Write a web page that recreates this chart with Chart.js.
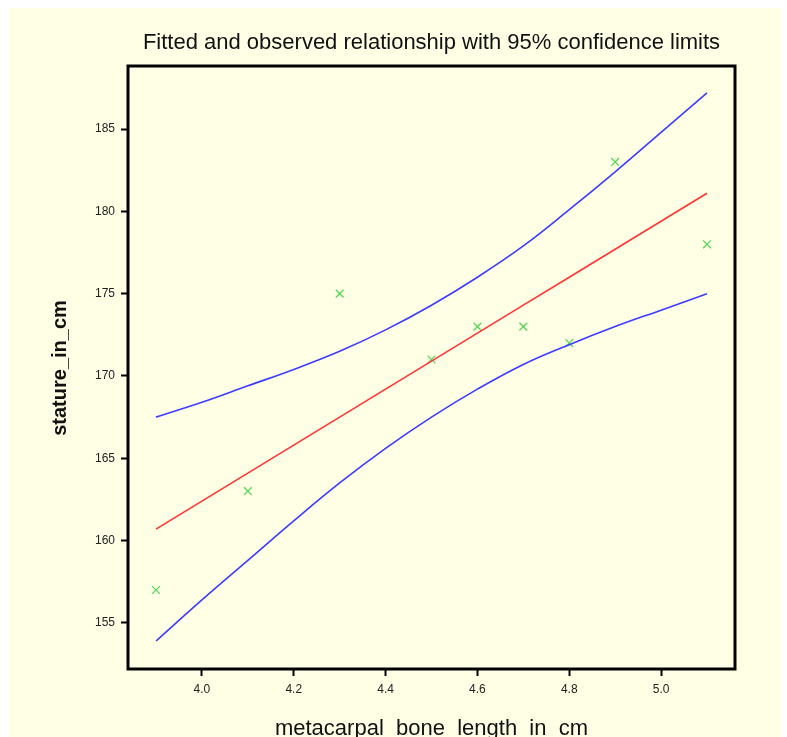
<!DOCTYPE html>
<html>
<head>
<meta charset="utf-8">
<title>Fitted and observed relationship</title>
<script src="https://cdn.jsdelivr.net/npm/chart.js@4.4.1/dist/chart.umd.min.js"></script>
<style>
    html, body { margin: 0; padding: 0; background: #ffffff; }
    canvas { display: block; }
</style>
</head>
<body>
<canvas id="chart" width="787" height="737"></canvas>
<script>
// Observed data
const boneLength = [3.9, 4.1, 4.3, 4.5, 4.6, 4.7, 4.8, 4.9, 5.1];
const stature = [157, 163, 175, 171, 173, 173, 172, 183, 178];

// Fitted line and 95% limits
const curveX = [3.9, 4.0, 4.1, 4.2, 4.3, 4.4, 4.5, 4.6, 4.7, 4.8, 4.9, 5.0, 5.1];
const fittedStature = [160.7, 162.4, 164.1, 165.8, 167.5, 169.2, 170.9, 172.6, 174.3, 176.0, 177.7, 179.4, 181.1];
const upperLimit = [167.5, 168.4, 169.4, 170.4, 171.5, 172.8, 174.3, 176.0, 177.9, 180.1, 182.4, 184.8, 187.2];
const lowerLimit = [153.9, 156.4, 158.8, 161.2, 163.5, 165.6, 167.5, 169.2, 170.7, 171.9, 173.0, 174.0, 175.0];

// Tick labels
const xTickValues = [4.0, 4.2, 4.4, 4.6, 4.8, 5.0];
const yTickValues = [155, 160, 165, 170, 175, 180, 185];

const FONT = '"Liberation Sans", Arial, sans-serif';

function toPoints(xs, ys) {
    return xs.map((x, i) => ({ x: x, y: ys[i] }));
}

// Background, frame and titles
const decorPlugin = {
    id: 'decor',
    beforeDraw(chart) {
        const ctx = chart.ctx;
        ctx.save();
        ctx.fillStyle = '#ffffe6';
        ctx.fillRect(9, 8, 772, 729);
        ctx.restore();
    },
    afterDraw(chart) {
        const ctx = chart.ctx;
        const area = chart.chartArea;
        ctx.save();
        ctx.strokeStyle = '#000000';
        ctx.lineWidth = 3;
        ctx.strokeRect(area.left, area.top, area.right - area.left, area.bottom - area.top);

        const cx = (area.left + area.right) / 2;
        ctx.fillStyle = '#111111';
        ctx.textAlign = 'center';
        ctx.textBaseline = 'middle';
        ctx.font = '22px ' + FONT;
        ctx.fillText('Fitted and observed relationship with 95% confidence limits', cx, 43);

        ctx.textBaseline = 'alphabetic';
        ctx.font = '22px ' + FONT;
        ctx.fillText('metacarpal_bone_length_in_cm', cx, 735);

        ctx.translate(60, 368);
        ctx.rotate(-Math.PI / 2);
        ctx.textBaseline = 'middle';
        ctx.font = 'bold 20px ' + FONT;
        ctx.fillText('stature_in_cm', 0, 0);
        ctx.restore();
    }
};

const lineStyle = {
    showLine: true,
    pointRadius: 0,
    borderWidth: 1.6,
    fill: false
};

new Chart(document.getElementById('chart').getContext('2d'), {
    type: 'scatter',
    data: {
        datasets: [
            {
                ...lineStyle,
                label: 'upper',
                data: toPoints(curveX, upperLimit),
                borderColor: '#3c3cff',
                tension: 0.4
            },
            {
                ...lineStyle,
                label: 'lower',
                data: toPoints(curveX, lowerLimit),
                borderColor: '#3c3cff',
                tension: 0.4
            },
            {
                ...lineStyle,
                label: 'fitted',
                data: toPoints(curveX, fittedStature),
                borderColor: '#ff3434'
            },
            {
                label: 'observed',
                data: toPoints(boneLength, stature),
                showLine: false,
                pointStyle: 'crossRot',
                pointRadius: 5.5,
                borderWidth: 1.3,
                borderColor: '#55d655',
                backgroundColor: '#55d655'
            }
        ]
    },
    options: {
        responsive: false,
        animation: false,
        layout: {
            padding: { top: 66, right: 52, left: 0, bottom: 0 }
        },
        plugins: {
            legend: { display: false },
            title: { display: false },
            tooltip: { enabled: false }
        },
        scales: {
            x: {
                type: 'linear',
                min: 3.839,
                max: 5.161,
                afterFit(scale) { scale.height = 68; },
                afterBuildTicks(scale) {
                    scale.ticks = xTickValues.map(v => ({ value: v }));
                },
                grid: {
                    drawOnChartArea: false,
                    drawTicks: true,
                    tickLength: 7,
                    tickWidth: 2,
                    tickColor: '#000000'
                },
                border: { display: false },
                ticks: {
                    padding: 6,
                    color: '#222222',
                    font: { family: FONT, size: 12 },
                    maxRotation: 0,
                    callback: v => Number(v).toFixed(1)
                }
            },
            y: {
                type: 'linear',
                min: 152.2,
                max: 188.83,
                afterFit(scale) { scale.width = 128; },
                afterBuildTicks(scale) {
                    scale.ticks = yTickValues.map(v => ({ value: v }));
                },
                grid: {
                    drawOnChartArea: false,
                    drawTicks: true,
                    tickLength: 7,
                    tickWidth: 2,
                    tickColor: '#000000'
                },
                border: { display: false },
                ticks: {
                    padding: 6,
                    color: '#222222',
                    font: { family: FONT, size: 12 },
                    callback: v => String(v)
                }
            }
        }
    },
    plugins: [decorPlugin]
});
</script>
</body>
</html>
